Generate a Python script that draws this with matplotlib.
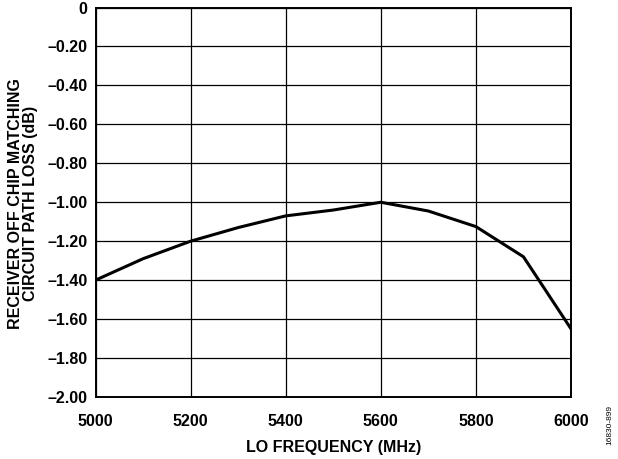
import matplotlib
matplotlib.use("Agg")
import matplotlib.pyplot as plt
import numpy as np

# data
freq_mhz = [5000, 5100, 5200, 5300, 5400, 5500, 5600, 5700, 5800, 5900, 6000]
loss_db = [-1.40, -1.29, -1.20, -1.13, -1.07, -1.04, -1.00, -1.045, -1.125, -1.28, -1.65]

x_ticks = [5000, 5200, 5400, 5600, 5800, 6000]
y_ticks = [0, -0.2, -0.4, -0.6, -0.8, -1.0, -1.2, -1.4, -1.6, -1.8, -2.0]
y_labels = ['0', '–0.20', '–0.40', '–0.60', '–0.80', '–1.00',
            '–1.20', '–1.40', '–1.60', '–1.80', '–2.00']

plt.rcParams['font.family'] = ['Liberation Sans', 'DejaVu Sans']
FS = 11.5

fig = plt.figure(figsize=(6.18, 4.59), dpi=100)
ax = fig.add_axes([95.5 / 618, 1 - 397 / 459, (571 - 95.5) / 618, (397 - 7.5) / 459])

ax.plot(freq_mhz, loss_db, color='black', lw=2.2, solid_joinstyle='miter', zorder=3)

ax.set_xlim(5000, 6000)
ax.set_ylim(-2.0, 0)
ax.set_xticks(x_ticks)
ax.set_yticks(y_ticks)
ax.set_yticklabels(y_labels)
ax.grid(True, color='black', lw=0.9)
ax.tick_params(length=0, labelsize=FS)
ax.tick_params(axis='x', pad=12)
ax.tick_params(axis='y', pad=5.8)
for lbl in ax.get_xticklabels() + ax.get_yticklabels():
    lbl.set_fontweight('bold')

for sp in ax.spines.values():
    sp.set_linewidth(1.4)

# axis titles placed by their centres
fig.text(0.5 * (95.5 + 571) / 618, 1 - 447.7 / 459, 'LO FREQUENCY (MHz)',
         fontsize=FS, fontweight='bold', ha='center', va='center')
fig.text(22.7 / 618, 1 - 203.5 / 459, 'RECEIVER OFF CHIP MATCHING\nCIRCUIT PATH LOSS (dB)',
         fontsize=FS, fontweight='bold', rotation=90, ha='center', va='center',
         linespacing=1.0, multialignment='center')

fig.text(610 / 618, 1 - 425 / 459, '16830-899', rotation=90, fontsize=6,
         ha='center', va='center')

fig.savefig('out.png', dpi=100)
